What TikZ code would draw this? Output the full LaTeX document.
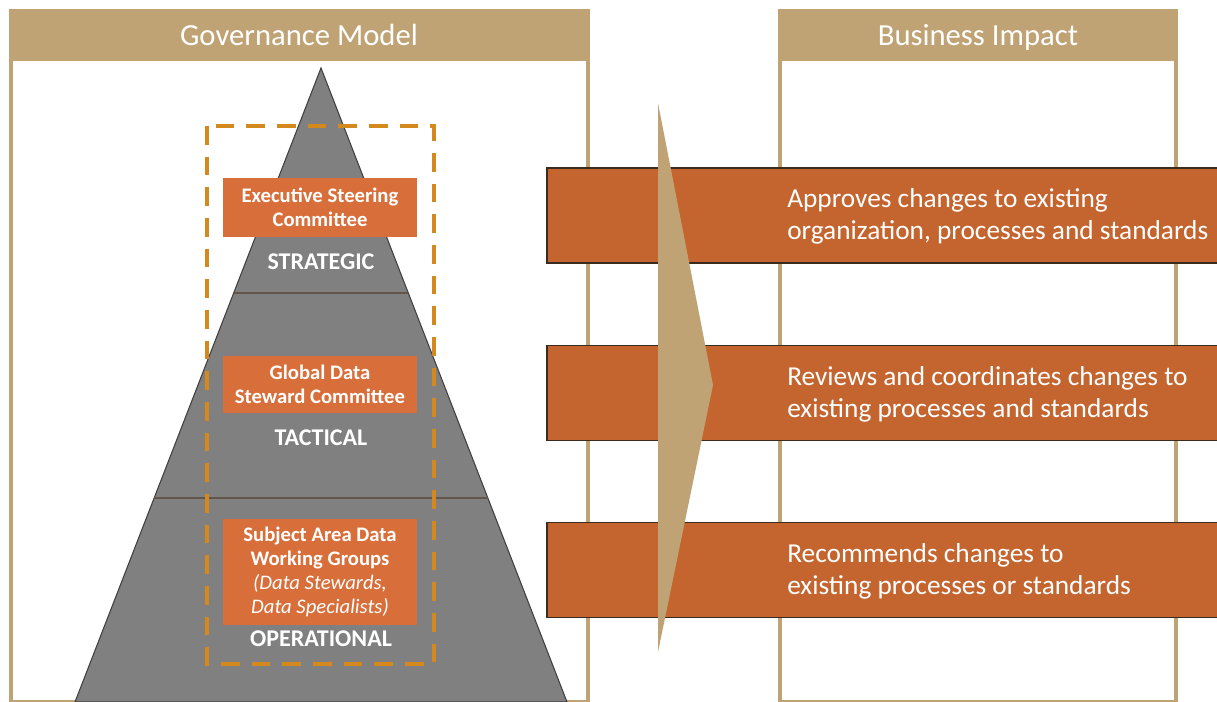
\documentclass[tikz,border=0pt]{standalone}
\usepackage{fontspec}
\setmainfont{Carlito}
\definecolor{tan}{HTML}{C0A375}
\definecolor{barorange}{HTML}{C4652F}
\definecolor{boxorange}{HTML}{D86F3B}
\definecolor{dashorange}{HTML}{D4891E}
\definecolor{pyrgray}{HTML}{808080}
\definecolor{pyredge}{HTML}{404040}
\definecolor{baredge}{HTML}{3B2A1E}
\tikzset{
  panel/.style={fill=tan, draw=none},
  inner/.style={fill=white, draw=none},
  headtext/.style={text=white, font=\fontsize{23}{27}\selectfont, inner sep=0pt, anchor=base},
  bar/.style={fill=barorange, draw=baredge, line width=1.1pt, minimum width=506.25pt, minimum height=71.25pt, inner sep=0pt},
  bartext/.style={text=white, font=\fontsize{20.5}{24}\selectfont, align=left, anchor=west, inner sep=0pt},
  orgbox/.style={fill=boxorange, draw=none, text=white, font=\bfseries\fontsize{15.5}{18.2}\selectfont, align=center, minimum width=145.5pt, inner sep=0pt},
  level/.style={text=white, font=\bfseries\fontsize{18}{20}\selectfont, inner sep=0pt},
}
\begin{document}
\begin{tikzpicture}[x=0.75pt,y=-0.75pt]
\useasboundingbox (0,0) rectangle (1217,702);
\fill[white] (0,0) rectangle (1217,702);
% left panel
\fill[panel] (9,9) rectangle (590,702);
\fill[inner] (13,61) rectangle (586,700);
\node[headtext] (gm) at (299,46) {Governance Model};
% right panel
\fill[panel] (778,9) rectangle (1178,702);
\fill[inner] (782,61) rectangle (1174,700);
\node[headtext] (bi) at (978,46) {Business Impact};
% bars
\node[bar] (b1) at (884.5,215.5) {};
\node[bar] (b2) at (884.5,393) {};
\node[bar] (b3) at (884.5,570) {};
\node[bartext] (t1) at (787,216) {Approves changes to existing\\organization, processes and standards};
\node[bartext] (t2) at (787,394) {Reviews and coordinates changes to\\existing processes and standards};
\node[bartext] (t3) at (787,571) {Recommends changes to\\existing processes or standards};
% chevron
\fill[tan] (658,103) -- (713,385) -- (658,652) -- cycle;
% pyramid
\filldraw[fill=pyrgray, draw=pyredge, line width=0.8pt] (321,68) -- (567,702) -- (75,702) -- cycle;
\draw[draw=baredge!80, line width=0.9pt] (234,293) -- (408,293);
\draw[draw=baredge!80, line width=0.9pt] (154,498) -- (488,498);
% dashed frame
\draw[dashorange, line width=3pt, dash pattern=on 14pt off 9pt] (207,126) rectangle (434,664);
% org boxes
\node[orgbox, minimum height=44.25pt] (esc) at (320,207.5) {Executive Steering\\Committee};
\node[orgbox, minimum height=42.75pt] (gdsc) at (320,384.5) {Global Data\\Steward Committee};
\node[orgbox, minimum height=79.5pt] (sadwg) at (320,572) {Subject Area Data\\Working Groups\\\mdseries\itshape (Data Stewards,\\\mdseries\itshape Data Specialists)};
% levels
\node[level] (strat) at (321,262) {STRATEGIC};
\node[level] (tact) at (321,438) {TACTICAL};
\node[level] (oper) at (321,639) {OPERATIONAL};
\end{tikzpicture}
\end{document}
